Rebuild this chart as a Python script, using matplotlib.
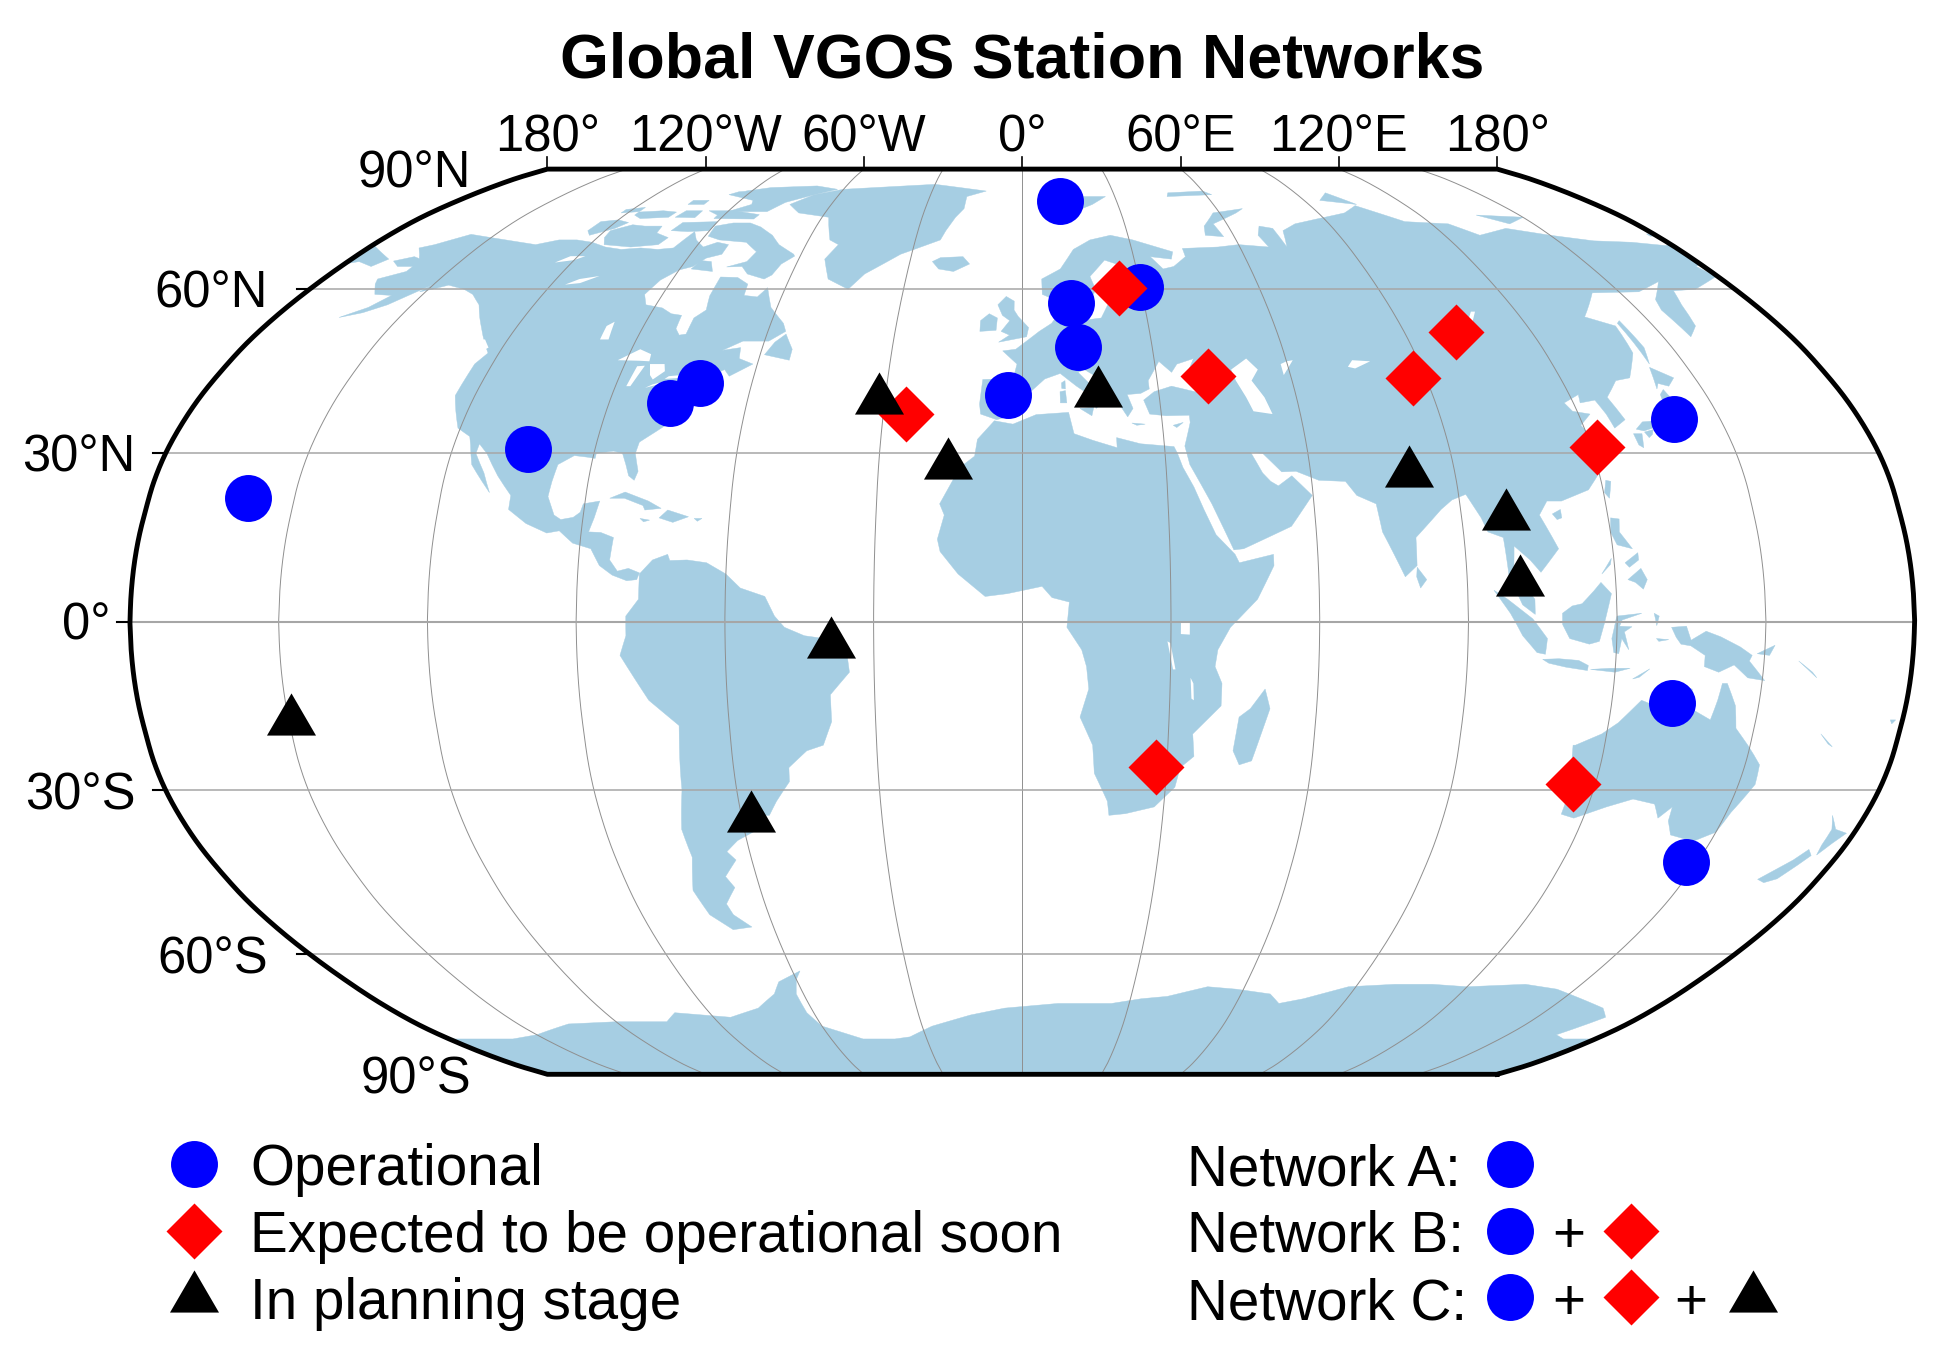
import numpy as np
import matplotlib
matplotlib.use("Agg")
import matplotlib.pyplot as plt
from matplotlib.patches import Polygon

plt.rcParams['font.family'] = ['Liberation Sans', 'DejaVu Sans']

# ---------- data ----------
title = "Global VGOS Station Networks"
operational_lon = [-159.66, -71.5, -76.8, -104.0, 11.87, 11.9, 12.9, 29.8, -3.1, 140.2, 132.2, 147.4]
operational_lat = [22.13, 42.6, 39.0, 30.7, 78.93, 57.4, 49.1, 60.5, 40.5, 36.2, -14.4, -42.8]
soon_lon = [24.4, 102.2, 41.6, 87.2, 121.2, 115.3, 27.7, -25.1]
soon_lat = [60.2, 51.8, 43.8, 43.4, 31.1, -29.0, -25.9, 37.0]
planned_lon = [-31.4, -15.6, -38.6, -149.3, -57.7, 16.8, 80.8, 99.3, 100.7]
planned_lat = [40.7, 29.1, -2.7, -16.4, -33.7, 42.0, 27.7, 20.0, 8.4]

lon_ticks = [-180, -120, -60, 0, 60, 120, 180]
lon_tick_labels = ["180°", "120°W", "60°W", "0°", "60°E", "120°E", "180°"]
lat_ticks = [90, 60, 30, 0, -30, -60, -90]
lat_tick_labels = ["90°N", "60°N", "30°N", "0°", "30°S", "60°S", "90°S"]
legend_labels = ["Operational", "Expected to be operational soon", "In planning stage"]
network_labels = ["Network A:", "Network B:", "Network C:"]

north_america = [(-168,65.6),(-164,66.5),(-162,66.1),(-163.5,67),(-166,68.3),(-163,69),(-157,71.2),(-150,70.5),(-141,69.6),(-135,69),(-130,70),(-125,70),(-120,69.5),(-115,68.5),(-110,68),(-105,68.3),(-100,68),(-96,68.3),(-94,71.8),(-91.5,70),(-88,68.5),(-85,69.5),(-81.5,69),(-81.5,67),(-85,66.2),(-87,64.5),(-90,63.8),(-93,61.8),(-94.5,59),(-92.5,57),(-88,56.4),(-85,55.3),(-82.3,55),(-82,52.5),(-80.5,51.3),(-79,51.5),(-79,54.5),(-77,56),(-78,58.7),(-78,62.4),(-73.5,62.3),(-70,61),(-69.5,58.8),(-66,58.5),(-64.5,60.3),(-61.5,56.5),(-57,53.5),(-55.8,52),(-59,50.2),(-65,50.2),(-69,48.5),(-65,49),(-64.5,47),(-61,46),(-65.5,43.8),(-67,45),(-70,43.7),(-70,41.7),(-74,40.5),(-75.5,37.5),(-76,35.2),(-78,33.9),(-81,32),(-81.3,30),(-80,26.8),(-80.5,25.2),(-81.8,26),(-82.8,28),(-84,30),(-86,30.4),(-89.5,30),(-89.5,29.1),(-91,29.3),(-94,29.6),(-97,28),(-97.5,25),(-97.8,22.3),(-96,19),(-94.5,18.2),(-92,18.6),(-90.7,19.5),(-90.3,21),(-87,21.5),(-87.7,18.5),(-88.5,16),(-86,15.9),(-83.3,15),(-83.7,11),(-82,9),(-79.8,9.5),(-77.5,8.7),(-78,7.5),(-80,7.3),(-83,8.3),(-85.7,10),(-87.7,13),(-91.5,14),(-94.5,16.2),(-97,15.8),(-101.5,17.5),(-105.5,20),(-105.5,22.5),(-109,26),(-112.5,30),(-114.7,31.7),(-114.8,30),(-112,26.5),(-110,23),(-112,25),(-115,28),(-116.5,31.5),(-117.3,33),(-120.5,34.5),(-122.5,37.5),(-124.3,40.3),(-124,46),(-122.5,48),(-125,50),(-128,52.5),(-130.5,54.5),(-133.5,57),(-137.5,59),(-141,60),(-146,60.8),(-149,60),(-151.5,59.5),(-150,61),(-153,59),(-156,57),(-160,55.5),(-164.5,54.6),(-160,56.5),(-157.5,58.8),(-162,59),(-165,61),(-166,62),(-161,63.5),(-161,64.5),(-165,64.5)]
south_america = [(-77.5,8.5),(-75,11),(-72,12),(-71.5,10.9),(-68,11),(-64,10.5),(-60,8.5),(-57,6),(-52,4.5),(-50,1),(-48,-1),(-44,-2.5),(-40,-3),(-35.5,-5.2),(-35,-9),(-39,-13),(-39,-17.8),(-41,-22),(-44.5,-23),(-48.5,-26),(-48.7,-28.5),(-52,-32),(-54,-34.5),(-58,-34.5),(-57,-37),(-62,-39),(-65,-41),(-63.5,-42.5),(-67,-45.5),(-65.7,-47.5),(-69,-50.5),(-68.4,-52.5),(-65.2,-54.8),(-70,-55.3),(-74,-52.5),(-75.5,-48),(-73,-42),(-73.5,-37),(-71.5,-30),(-70.3,-18.5),(-76,-14),(-81.3,-6),(-80,-2.5),(-80,1),(-77.5,4),(-77.5,7)]
africa = [(-6,35.8),(-2,35.2),(3,36.9),(10,37.3),(11,33.5),(15,32.3),(20,31),(20,32.8),(25,31.7),(32,31.2),(32.6,30),(33.5,27.5),(35.5,24),(37.3,20),(39.5,15.5),(43.2,12),(44,10.5),(51,12),(51,10),(47.5,4),(42,-1),(39.5,-5),(39,-8),(40.5,-11),(40.5,-15),(35,-20),(35.5,-24),(32.8,-26),(32,-29.5),(28,-33),(22,-34.2),(18.5,-34.5),(18,-32),(15,-27),(14.5,-22),(11.8,-17),(13.5,-12),(13,-8),(12,-5),(9,-1),(9.5,3.5),(6,4.3),(4,6.3),(-3,5),(-7.5,4.5),(-13,8.5),(-16.7,12.5),(-17.3,14.7),(-16,19),(-17,21),(-13,27.5),(-10,29.5),(-9.5,32.5)]
eurasia = [(-9,37),(-9.3,38.8),(-8.8,43.2),(-2,43.4),(-1.2,46),(-4.5,48.4),(-1.5,48.7),(1.5,50.5),(4,52),(7,53.5),(8.5,55),(8.5,57),(10.5,57.5),(10,55),(11,54),(14,54),(19,54.5),(21,57),(24,57.3),(23.5,59.3),(28,59.7),(30,60),(25,60.2),(22,60.2),(21.5,62.5),(25,65),(22,65.8),(17.5,62.5),(18.5,60),(16.5,57),(14.3,55.5),(13,55.5),(11,59),(8,58),(5,59),(5,62),(10,64),(14,68),(19,70),(25,71),(31,70),(41,67.5),(40,66),(34.5,66.5),(37,64),(40,64.5),(44,66.5),(44,68.2),(54,68.5),(60,69),(68,68.5),(67,71),(69,73),(72.5,72.5),(73,68.5),(75,72),(80,73.5),(87,74.5),(98,76),(104,77.7),(113,74),(125,73.5),(130,71),(140,72.5),(150,71),(160,69.8),(170,69.5),(178,68.8),(180,69),(180,65),(178,64.5),(179.5,62.5),(170,60),(164,59.7),(162,57),(160,53),(156.5,51),(155.7,56),(157,58),(163,61.5),(155,59.5),(143,59.3),(135.5,54.7),(141,53),(140,48),(135.5,43.5),(132,43),(128,40),(129.5,36),(126.5,34.5),(126,37),(125,39.5),(121.5,39),(122,40.5),(118,39),(119,37.5),(122.5,37),(119.5,35),(122,31),(120.5,27),(117,23.5),(111,21.5),(108,21.5),(106,19),(109,13),(105,8.8),(103,11),(100,13.5),(99.5,9),(103.5,4),(103.5,1.3),(101,3),(98.5,8),(98,15),(95,16),(94,18.5),(91.5,22.7),(88.5,21.7),(86,20),(80.2,15),(80,10),(77.5,8),(73.5,16),(72.8,21),(69,22.5),(67,25),(61.5,25.2),(57,26.8),(54,26.7),(50.5,30),(48,30.2),(50,26.5),(51.5,25),(53,24.2),(56,26),(59.8,22.5),(55,17),(45,13),(43,12.8),(39,21),(35,28),(34.3,31.3),(36,35.5),(36,36.8),(31,36.7),(27.5,37),(26.5,39.5),(29,41),(33,42),(38,41),(41.5,41.5),(37.5,45),(39,47),(35,46),(33.5,44.5),(31,46.5),(28,43),(28,41.5),(26,40.7),(23,40.5),(24,38),(22.7,36.5),(19.5,41),(18.5,42.7),(14,45),(12.5,44.5),(16,41.5),(18.5,40),(16,38),(15.5,40),(12,42),(8.5,44.3),(5,43.3),(3.2,42),(0,39.7),(-0.5,38),(-2,36.8),(-5.5,36)]
chukotka = [(-180,69),(-175,67.5),(-170,66),(-172,64.5),(-177,65.5),(-180,65)]
australia = [(113.5,-22),(114,-26),(115,-31),(115,-34.3),(118,-35),(124,-33),(129,-31.6),(134,-32.5),(136,-35),(138,-33),(138.5,-35.5),(140.5,-38),(144,-38.7),(146.5,-39),(150,-37.5),(151,-34),(153.5,-29),(153,-25.5),(149.5,-22),(146.3,-19),(145.3,-15),(143,-11),(142,-11),(141.5,-14),(140.7,-17.5),(137,-15.8),(136,-12),(132.5,-11.5),(130,-13),(129,-15),(126,-14),(122,-18),(119,-20),(114,-22)]
antarctica = [(-180,-78),(-160,-78),(-150,-77),(-135,-74.5),(-120,-74),(-105,-74),(-100,-72),(-85,-73),(-75,-71),(-68,-68),(-65,-65.5),(-58,-63.3),(-60,-65),(-62,-68),(-62,-72),(-60,-75),(-50,-78),(-40,-78),(-35,-77.5),(-27,-75),(-15,-72.5),(-5,-71),(10,-70),(25,-70),(33,-69),(40,-68.5),(50,-66.5),(58,-67),(68,-68),(72,-70),(78,-69),(88,-66.5),(100,-66),(110,-66),(120,-66.5),(135,-66),(145,-67),(155,-69),(165,-71),(170,-73),(165,-77),(170,-78),(180,-78),(180,-90),(-180,-90)]
greenland = [(-73,78),(-68,76),(-58,75),(-54,70),(-51,69),(-53,66),(-50,62),(-44,60),(-41,63),(-33,67),(-23,70),(-22,72),(-20,75),(-18,77),(-18,80),(-12,81.5),(-30,83.5),(-50,82.5),(-60,82),(-68,80.5)]
islands = [
 [(-61.5,66.6),(-64,65),(-65,62.8),(-66.5,62),(-71.5,63),(-74,64.5),(-78,64.4),(-73.5,65.5),(-72.5,67.5),(-77,69.5),(-85,70),(-89,70.8),(-89.5,73),(-85,73.7),(-80,73.7),(-76,72.8),(-71,71),(-67.5,69),(-62,67)],
 [(-116,69),(-108,68.5),(-101,69),(-100,70.5),(-104.5,71.5),(-105,73),(-110,73),(-114,73.3),(-118.5,72),(-118,70.5)],
 [(-125,72),(-123,71),(-118,72.5),(-116,73.8),(-120,74.4),(-124.5,74)],
 [(-117,75.5),(-114,74.7),(-106,75),(-105.5,76.2),(-110,76.5),(-117,76.2)],
 [(-122,76),(-117,76.3),(-117,77.3),(-122,76.8)],
 [(-105,78),(-100,78),(-100,79),(-105,79)],
 [(-96,80.5),(-86,79),(-87,80.5),(-91,81.5),(-94,81.3)],
 [(-92,74.7),(-80,74.6),(-79.5,75.6),(-88,76.5),(-96,76.5),(-92,75.5)],
 [(-90,76.3),(-78,76.3),(-75,78.5),(-68,80.5),(-62,82),(-70,83),(-85,82.5),(-92,81.5),(-87,80),(-85,78)],
 [(-96,71.8),(-90,72),(-90,74),(-100,73.8),(-101,72)],
 [(-104,75),(-98,74.9),(-98,76.5),(-103,76.5)],
 [(-87,64),(-81,63.5),(-83,65.5),(-86,65.7)],
 [(-59,47.7),(-53,46.7),(-53,48.7),(-55.5,51.5),(-57.5,50)],
 [(-24,65.5),(-22,64),(-18,63.5),(-14,65),(-16,66.5),(-22,66.3)],
 [(11,79),(14,77.5),(17,76.6),(22,78),(27,80),(18,80)],
 [(52,71),(57,70.7),(56,73.5),(65,76),(68,77),(58,76),(53,73)],
 [(95,79),(105,78),(100,81)],
 [(137,75.5),(150,75),(143,73.5)],
 [(178,71.3),(180,71),(180,70.9),(178,70.8)],
 [(47,80),(62,80.5),(60,81.5),(48,81)],
 [(142,46),(143.5,49),(143,54),(142,53.5),(142,48)],
 [(-5.5,50),(1,51),(1.5,52.7),(-1,54.8),(-2,56),(-2,57.7),(-4,58.6),(-6,57),(-4.8,55),(-3,54),(-5,52),(-3,51.3)],
 [(-10,52),(-6.2,52.2),(-6,54.5),(-8,55.3),(-10,54)],
 [(12.5,38),(15.5,38.2),(15,36.7)],
 [(8.3,39),(9.7,39),(9.5,41.2),(8.3,41)],
 [(8.7,41.6),(9.5,41.5),(9.5,43),(8.7,42.6)],
 [(23.5,35.4),(26.3,35.2),(24.5,35)],
 [(32.3,35),(34.5,35.5),(33,34.6)],
 [(80,9.7),(81.8,7.5),(80.5,6),(79.8,8)],
 [(120.2,23),(121,22),(122,25),(121,25.2)],
 [(108.7,19.2),(110.5,20),(110.5,18.5),(109.5,18.2)],
 [(130,33.5),(131.8,33.5),(131,31),(130.2,31.5)],
 [(132.5,33.8),(134.5,34.2),(134,33.4),(133,32.8)],
 [(131,34.3),(133,35.6),(136,35.8),(137,37.3),(139.5,38.5),(140,40.5),(141.3,41.4),(142,39.5),(140.8,36),(140,35),(137,34.6),(135.5,33.5),(135,34.6),(132.5,34)],
 [(140,41.5),(141.5,45.4),(145.3,43.5),(143,42),(141,42.5)],
 [(120,16),(120.5,18.5),(122.2,18.3),(121.8,16),(124,13),(121,13.7)],
 [(122.5,7.5),(125.3,9.5),(126.4,7.5),(125.5,5.8),(124,7)],
 [(122.2,10.5),(125,12.3),(125,11),(123,9.7)],
 [(117.3,8.5),(119.5,11.3),(119.2,10.2)],
 [(109,1.5),(111,2.8),(113,3.2),(115.5,5.5),(117,7),(119,5),(117.8,1),(116.5,-3.5),(114.5,-4),(110.5,-3),(109,-0.5)],
 [(95.3,5.6),(98,4),(103,0.5),(106,-3),(105.7,-5.8),(104,-5.5),(101,-2.5),(98.5,1.5)],
 [(105.2,-6.7),(108.5,-6.6),(112.5,-6.9),(114.5,-7.8),(114.4,-8.7),(110,-8.1),(106.5,-7.4)],
 [(119.5,-5.5),(119,-3),(119.8,0.5),(120,1),(125,1.5),(121,0.3),(120.5,-0.8),(123,-0.9),(121.5,-1.8),(122.5,-5),(121,-3),(120.5,-5.7)],
 [(131,-1),(134,-0.8),(135,-3.3),(138,-1.7),(141,-2.7),(145,-4.5),(147.5,-6),(147,-7),(150.5,-10.5),(147,-10),(144,-7.7),(141,-9),(138,-8),(138,-6),(135,-4.3),(133,-4),(132,-2.8)],
 [(123.7,-10.2),(127,-8.4),(125,-9.9)],
 [(115,-8.5),(119,-8.3),(123,-8.3),(120,-9)],
 [(127.5,1.5),(128.5,1),(128,-0.7)],
 [(128,-3),(130.5,-3.2),(128.5,-3.5)],
 [(148.5,-5.7),(152,-4.2),(151,-6)],
 [(157,-7),(160,-9),(161,-10)],
 [(164,-20),(167,-22.3),(166,-21.8)],
 [(177.5,-17.5),(178.6,-17.5),(178,-18.2)],
 [(145,-41),(148,-41),(148,-43),(146.5,-43.6)],
 [(166.5,-46),(168.5,-46.6),(170.8,-45.9),(172.8,-43.5),(174.2,-41.7),(172.7,-40.6),(171,-42.5)],
 [(173,-34.5),(175.5,-37),(178.4,-37.7),(176.8,-39.5),(175.3,-41.6),(174.8,-39.8),(174.7,-37)],
 [(49.3,-12),(50.5,-15.5),(47.5,-24.8),(45,-25.5),(43.5,-23),(44.3,-17),(46.5,-15.5)],
 [(-85,22),(-82,23.1),(-77,21.5),(-74.2,20.2),(-77.5,19.9),(-78,20.7),(-82,22)],
 [(-74.4,18.5),(-72.8,19.9),(-68.4,18.7),(-71.5,17.7)],
 [(-78.3,18.4),(-76.3,18.1),(-77.5,17.8)],
 [(-67.2,18.4),(-65.6,18.4),(-66.5,17.9)],
]
lakes = [
 [(-92,46.7),(-88,48.7),(-85,47.8),(-84.7,46.5),(-87,46.6)],
 [(-87.6,42),(-86.7,42),(-85.3,45.7),(-87,45.6)],
 [(-84.3,46),(-81,46),(-80.3,44.7),(-82.3,43.2),(-83.3,44)],
 [(-83.3,41.7),(-79,42.7),(-79,43),(-82,42.3)],
 [(-79.7,43.3),(-76.3,43.5),(-76.3,44),(-79,43.8)],
 [(-98.5,50.5),(-96.5,50.5),(-97.5,53.8),(-98.8,53)],
 [(-116.5,60.9),(-113,61.2),(-109.5,62.6),(-114,62)],
 [(-124.5,65.3),(-120,65.8),(-118,66.6),(-122,66.6)],
 [(-124,48.5),(-123.2,49),(-125.3,50.5),(-126.2,50.5)],
 [(32,0.1),(33.8,0.1),(33.8,-2.3),(32,-2.2)],
 [(29.3,-3.5),(29.9,-3.8),(31,-8.5),(30.5,-8.5)],
 [(34.1,-10),(34.7,-11),(34.9,-14),(34.4,-13.7)],
 [(47,45),(51,47),(53,45),(51,43),(53,40),(54,37),(50,37.5),(49,40),(47.5,43)],
 [(58.5,44),(61.5,46.7),(60,46.5),(58.5,46)],
 [(73.5,45.5),(75,46.7),(79,46.5),(75,45.2)],
 [(103.7,51.6),(105,51.6),(110,55.7),(109,55.7)],
 [(30,60),(32.5,60.5),(32.5,61.5),(30.5,61.5)],
 [(34.8,61),(36,61),(36,62.5),(34.8,62.5)],
]

# ---------- Robinson projection ----------
PDFE = np.array([1,.9986,.9954,.99,.9822,.973,.96,.9427,.9216,.8962,.8679,.835,.7986,.7597,.7186,.6732,.6213,.5722,.5322])
PLEN = np.array([0,.062,.124,.186,.248,.31,.372,.434,.4958,.5571,.6176,.6769,.7346,.7903,.8435,.8936,.9394,.9761,1.0])
HALF_W, HALF_H = 892.4, 452.6

def hermite(tab, a):
    m = np.gradient(tab)
    a = np.clip(np.asarray(a, float), 0, 90)
    i = np.minimum((a // 5).astype(int), 17)
    t = a / 5 - i
    return ((2*t**3 - 3*t**2 + 1)*tab[i] + (t**3 - 2*t**2 + t)*m[i]
            + (-2*t**3 + 3*t**2)*tab[i+1] + (t**3 - t**2)*m[i+1])

def project(lon, lat):
    lon, lat = np.asarray(lon, float), np.asarray(lat, float)
    return HALF_W * hermite(PDFE, np.abs(lat)) * lon / 180, HALF_H * hermite(PLEN, np.abs(lat)) * np.sign(lat)

def densify(poly):
    pts = []
    n = len(poly)
    for k in range(n):
        a, b = np.array(poly[k], float), np.array(poly[(k + 1) % n], float)
        steps = max(1, int(np.ceil(np.abs(b - a).max() / 2)))
        for s in range(steps):
            pts.append(a + (b - a) * s / steps)
    pts = np.array(pts)
    return np.column_stack(project(pts[:, 0], pts[:, 1]))

# ---------- figure ----------
fig = plt.figure(figsize=(19.42, 13.6), dpi=100)
W, H = 1942, 1360
CX, CY = 1022.3, 621.7
ax = fig.add_axes([(CX - HALF_W) / W, 1 - (CY + HALF_H) / H, 2 * HALF_W / W, 2 * HALF_H / H])
ax.set_xlim(-HALF_W, HALF_W)
ax.set_ylim(-HALF_H, HALF_H)
ax.axis('off')

lat_s = np.linspace(-90, 90, 721)
fx, fy = project(np.full_like(lat_s, 180), lat_s)
frame_xy = np.vstack([np.column_stack([fx, fy]), np.column_stack([-fx[::-1], fy[::-1]])])
clip = Polygon(frame_xy, closed=True, transform=ax.transData, fc='none', ec='none')
ax.add_patch(clip)

LAND = '#A6CEE3'
for poly in [north_america, south_america, africa, eurasia, chukotka, australia, antarctica, greenland] + islands:
    p = Polygon(densify(poly), closed=True, fc=LAND, ec=LAND, lw=0.3, zorder=2)
    ax.add_patch(p)
    p.set_clip_path(clip)
for poly in lakes:
    ax.add_patch(Polygon(densify(poly), closed=True, fc='white', ec='none', zorder=3))

for lon in range(-150, 151, 30):
    x, y = project(np.full_like(lat_s, lon), lat_s)
    ax.plot(x, y, color='#8f8f8f', lw=0.7, zorder=4, clip_on=False)
lon_s = np.linspace(-180, 180, 181)
for lat in [-60, -30, 0, 30, 60]:
    x, y = project(lon_s, np.full_like(lon_s, lat))
    ax.plot(x, y, color='#a6a6a6', lw=1.5 if lat == 0 else 1.1, zorder=4, clip_on=False)

ax.plot(np.append(frame_xy[:, 0], frame_xy[0, 0]), np.append(frame_xy[:, 1], frame_xy[0, 1]),
        color='black', lw=3.5, zorder=5, clip_on=False, solid_joinstyle='miter')

# ticks
for lon in lon_ticks:
    x, y = project(lon, 90)
    ax.plot([x, x], [y, y + 12], color='black', lw=1.2, zorder=5, clip_on=False)
for lat in [-60, -30, 0, 30, 60]:
    x, y = project(-180, lat)
    ax.plot([x - 13, x], [y, y], color='black', lw=1.5, zorder=5, clip_on=False)

# stations
CIRC = dict(marker='o', ms=33.8, mfc='#0000ff', mec='none', ls='none', zorder=6, clip_on=False)
DIAM = dict(marker='D', ms=28.4, mfc='#ff0000', mec='none', ls='none', zorder=7, clip_on=False)
TRI = dict(marker=[(-0.5, -0.43), (0.5, -0.43), (0, 0.43)], ms=35.3, mfc='black', mec='none', ls='none', zorder=8, clip_on=False)
ax.plot(*project(operational_lon, operational_lat), **CIRC)
ax.plot(*project(soon_lon, soon_lat), **DIAM)
ax.plot(*project(planned_lon, planned_lat), **TRI)

# overlay in pixel coordinates for text and the legend
lay = fig.add_axes([0, 0, 1, 1])
lay.set_xlim(0, W)
lay.set_ylim(H, 0)
lay.axis('off')
lay.patch.set_alpha(0)

FS = 36.5
LEG_FS = 40.8
lay.text(CX, 77, title, ha='center', va='baseline', fontsize=45.2, fontweight='bold')
for lon, lab in zip(lon_ticks, lon_tick_labels):
    x, _ = project(lon, 90)
    lay.text(CX + float(x), 151, lab, ha='center', va='baseline', fontsize=FS)
lat_gaps = [76, 42, 30, 19, 30, 42, 76]
lat_base = [188, 308, 472, 640, 809, 973, 1093]
for lat, lab, gap, base in zip(lat_ticks, lat_tick_labels, lat_gaps, lat_base):
    x, _ = project(-180, lat)
    lay.text(CX + float(x) - gap, base, lab, ha='right', va='baseline', fontsize=FS)

rows_y = [1163.5, 1230.5, 1297]
base_y = [1185, 1252, 1319]
tri_y = 1291
lay.plot(194, rows_y[0], **CIRC)
lay.plot(194, rows_y[1], **DIAM)
lay.plot(194, tri_y, **TRI)
for b, lab in zip(base_y, legend_labels):
    lay.text(250, b, lab, ha='left', va='baseline', fontsize=LEG_FS)
for b, lab in zip(base_y, network_labels):
    lay.text(1187, b, lab, ha='left', va='baseline', fontsize=LEG_FS)
for y in rows_y:
    lay.plot(1510, y, **CIRC)
for y in rows_y[1:]:
    lay.plot(1631, y, **DIAM)
lay.plot(1753, tri_y, **TRI)
for x, b in [(1569, base_y[1]), (1569, base_y[2]), (1691, base_y[2])]:
    lay.text(x, b, "+", ha='center', va='baseline', fontsize=LEG_FS)

fig.savefig('out.png', dpi=100, facecolor='white')
